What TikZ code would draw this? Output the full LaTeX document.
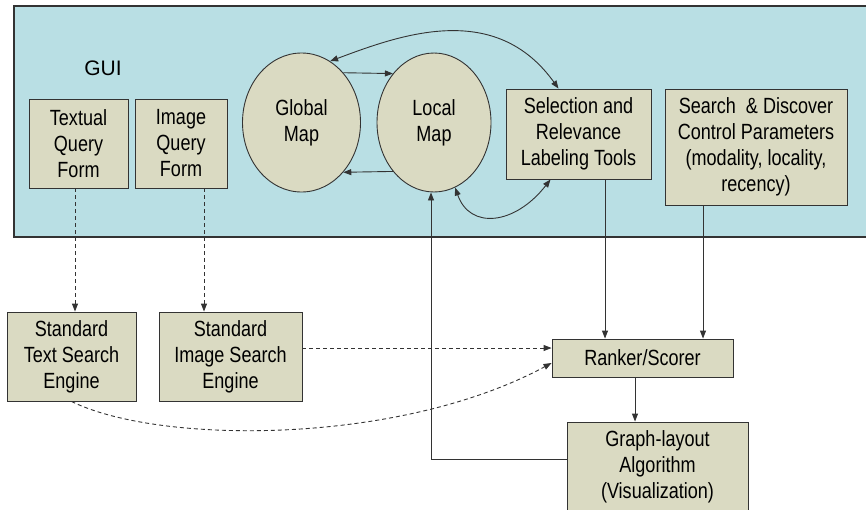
\documentclass[tikz,border=0pt]{standalone}
\usepackage{fontspec}
\setmainfont{Liberation Sans}[FakeStretch=0.82]
\newfontfamily\guifont{Liberation Sans}
\usetikzlibrary{arrows.meta,shapes.geometric}
\definecolor{panel}{HTML}{B9DFE4}
\definecolor{boxfill}{HTML}{DADAC2}
\definecolor{edge}{HTML}{333333}
\tikzset{
  box/.style={draw=edge, line width=0.9pt, fill=boxfill, rectangle, inner sep=0pt, align=center,
    font=\fontsize{22}{26}\selectfont},
  oval/.style={draw=edge, line width=0.9pt, fill=boxfill, ellipse, inner sep=0pt, align=center,
    minimum width=118pt, minimum height=139pt, font=\fontsize{22}{26}\selectfont},
  conn/.style={draw=edge, line width=0.9pt, -{Triangle[length=8pt,width=6pt]}},
  biconn/.style={draw=edge, line width=0.9pt, {Triangle[length=8pt,width=6pt]}-{Triangle[length=8pt,width=6pt]}},
  dconn/.style={conn, dash pattern=on 4pt off 3pt},
}
\begin{document}
\begin{tikzpicture}[x=1pt,y=-1pt]
\useasboundingbox (0,0) rectangle (866,509);
\clip (0,0) rectangle (866,509);
% GUI panel
\path[fill=panel, draw=edge, line width=1.2pt] (14,6) rectangle (880,237);
\node[font=\guifont\fontsize{21}{24}\selectfont] (gui) at (103,68) {GUI};
% nodes
\node[box, minimum width=99pt, minimum height=89pt] (tq) at (78.5,143.5) {Textual\\Query\\Form};
\node[box, minimum width=92pt, minimum height=89pt] (iq) at (181,143.5) {Image\\Query\\Form};
\node[oval] (gm) at (301.5,122.5) {Global\\Map};
\node[oval, minimum width=114pt] (lm) at (434,122.5) {Local\\Map};
\node[box, minimum width=145pt, minimum height=90pt] (sel) at (578.5,134) {Selection and\\Relevance\\Labeling Tools};
\node[box, minimum width=182pt, minimum height=116pt] (sd) at (756,147) {Search\ \ \& Discover\\Control Parameters\\(modality, locality,\\recency)};
\node[box, minimum width=129pt, minimum height=89pt] (te) at (71.5,356.5) {Standard\\Text Search\\Engine};
\node[box, minimum width=143pt, minimum height=89pt] (ie) at (230.5,356.5) {Standard\\Image Search\\Engine};
\node[box, minimum width=181pt, minimum height=38pt] (rk) at (642.5,358) {Ranker/Scorer};
\node[box, minimum width=181pt, minimum height=90pt] (gl) at (657.5,467) {Graph-layout\\Algorithm\\(Visualization)};
% connectors inside GUI
\draw[conn] (gm.50) -- (lm.130);
\draw[conn] (lm.-130) -- (gm.-50);
\draw[biconn] (gm.65) .. controls (400,35) and (495,0) .. ([xshift=-20pt]sel.north);
\draw[biconn] (lm.-72) .. controls (470,230) and (515,225) .. ([xshift=-28pt]sel.south);
% dashed from query forms
\draw[dconn] ([xshift=-3.5pt]tq.south) -- ([xshift=-3.5pt]tq.south |- te.north);
\draw[dconn] ([xshift=23pt]iq.south) -- ([xshift=23pt]iq.south |- ie.north);
% to ranker
\draw[conn] ([xshift=26.5pt]sel.south) -- ([xshift=26.5pt]sel.south |- rk.north);
\draw[conn] ([xshift=-53pt]sd.south) -- ([xshift=-53pt]sd.south |- rk.north);
\draw[dconn] ([yshift=8.5pt]ie.east) -- ([yshift=8.5pt]ie.east -| rk.west);
\draw[dconn] (te.south) .. controls (160,445) and (400,445) .. ([yshift=-5pt]rk.west);
\draw[conn] ([xshift=-7.5pt]rk.south) -- ([xshift=-7.5pt]rk.south |- gl.north);
% feedback to local map
\draw[conn] ([yshift=8pt]gl.west) -| ([xshift=-3pt]lm.south);
\end{tikzpicture}
\end{document}
